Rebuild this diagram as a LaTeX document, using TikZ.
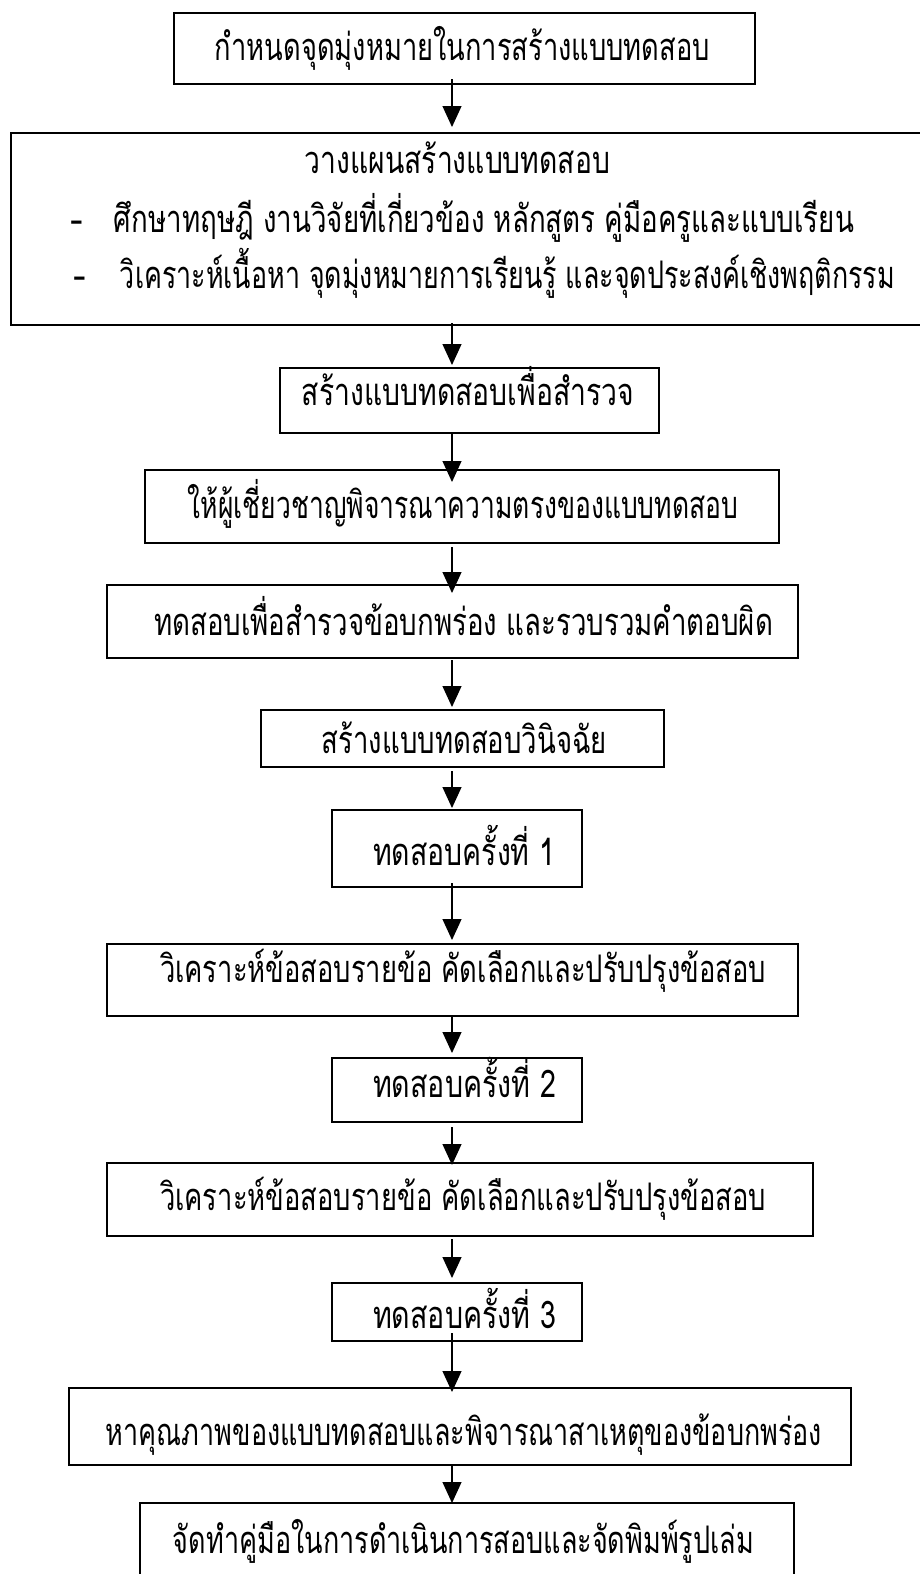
\documentclass[tikz,border=0pt]{standalone}
\usepackage{fontspec}
\usepackage{graphicx}
\newfontfamily\thai[Script=Thai]{Loma}
\usetikzlibrary{arrows.meta,calc}
\tikzset{
  box/.style={draw=black, line width=1.8pt, inner sep=0pt, outer sep=0pt, fill=none},
  arr/.style={line width=1.2pt, -{Triangle[width=19pt,length=21pt]}},
  lbl/.style={inner sep=0pt, outer sep=0pt, anchor=base, font=\thai\fontsize{38}{44}\selectfont},
}
\newcommand{\mkbox}[5]{\node[box, minimum width={(#3-#2)*1pt}, minimum height={(#5-#4)*1pt}] (#1) at ({(#2+#3)/2},{(#4+#5)/2}) {};}
\newcommand{\mktext}[6]{\node[lbl] (#1) at ({(#2+#3)/2},#4) {\resizebox{#5pt}{\height}{#6}};}
\begin{document}
\begin{tikzpicture}[x=1pt,y=-1pt]
\useasboundingbox (0,0) rectangle (920,1574);
\fill[white] (0,0) rectangle (920,1574);
\coordinate (axis) at (452,0);
% boxes
\mkbox{b1}{174}{755}{13}{84}
\mkbox{b2}{11}{930}{133}{325}
\mkbox{b3}{280}{659}{368}{433}
\mkbox{b4}{145}{779}{470}{543}
\mkbox{b5}{107}{798}{585}{658}
\mkbox{b6}{261}{664}{710}{767}
\mkbox{b7}{332}{582}{810}{887}
\mkbox{b8}{107}{798}{944}{1016}
\mkbox{b9}{332}{582}{1058}{1122}
\mkbox{b10}{107}{813}{1163}{1236}
\mkbox{b11}{332}{582}{1283}{1341}
\mkbox{b12}{69}{851}{1388}{1465}
\mkbox{b13}{140}{794}{1503}{1600}
% texts
\mktext{t1}{215}{710}{60}{495}{กำหนดจุดมุ่งหมายในการสร้างแบบทดสอบ}
\mktext{t2a}{305}{610}{173}{305}{วางแผนสร้างแบบทดสอบ}
\node[lbl] (d2b) at (77,232) {-};
\mktext{t2b}{114}{854}{232}{740}{ศึกษาทฤษฎี งานวิจัยที่เกี่ยวข้อง หลักสูตร คู่มือครูและแบบเรียน}
\node[lbl] (d2c) at (80,288) {-};
\mktext{t2c}{120}{895}{288}{775}{วิเคราะห์เนื้อหา จุดมุ่งหมายการเรียนรู้ และจุดประสงค์เชิงพฤติกรรม}
\mktext{t3}{302}{634}{405}{332}{สร้างแบบทดสอบเพื่อสำรวจ}
\mktext{t4}{188}{738}{518}{550}{ให้ผู้เชี่ยวชาญพิจารณาความตรงของแบบทดสอบ}
\mktext{t5}{154}{773}{635}{619}{ทดสอบเพื่อสำรวจข้อบกพร่อง และรวบรวมคำตอบผิด}
\mktext{t6}{322}{607}{753}{285}{สร้างแบบทดสอบวินิจฉัย}
\mktext{t7}{373}{555}{865}{182}{ทดสอบครั้งที่ 1}
\mktext{t8}{160}{766}{982}{606}{วิเคราะห์ข้อสอบรายข้อ คัดเลือกและปรับปรุงข้อสอบ}
\mktext{t9}{373}{556}{1097}{183}{ทดสอบครั้งที่ 2}
\mktext{t10}{160}{766}{1210}{606}{วิเคราะห์ข้อสอบรายข้อ คัดเลือกและปรับปรุงข้อสอบ}
\mktext{t11}{373}{556}{1328}{183}{ทดสอบครั้งที่ 3}
\mktext{t12}{106}{822}{1445}{716}{หาคุณภาพของแบบทดสอบและพิจารณาสาเหตุของข้อบกพร่อง}
\mktext{t13}{173}{754}{1553}{581}{จัดทำคู่มือในการดำเนินการสอบและจัดพิมพ์รูปเล่ม}
% arrows
\draw[arr] ($(b1.south -| axis)+(0,-5)$) -- ($(b2.north -| axis)+(0,-6)$);
\draw[arr] ($(b2.south -| axis)+(0,-2)$) -- ($(b3.north -| axis)+(0,-3)$);
\draw[arr] ($(b3.south -| axis)+(0,0)$) -- ($(b4.north -| axis)+(0,12)$);
\draw[arr] ($(b4.south -| axis)+(0,4)$) -- ($(b5.north -| axis)+(0,8)$);
\draw[arr] ($(b5.south -| axis)+(0,2)$) -- ($(b6.north -| axis)+(0,-3)$);
\draw[arr] ($(b6.south -| axis)+(0,4)$) -- ($(b7.north -| axis)+(0,-2)$);
\draw[arr] ($(b7.south -| axis)+(0,-4)$) -- ($(b8.north -| axis)+(0,-4)$);
\draw[arr] ($(b8.south -| axis)+(0,1)$) -- ($(b9.north -| axis)+(0,-5)$);
\draw[arr] ($(b9.south -| axis)+(0,5)$) -- ($(b10.north -| axis)+(0,2)$);
\draw[arr] ($(b10.south -| axis)+(0,3)$) -- ($(b11.north -| axis)+(0,-5)$);
\draw[arr] ($(b11.south -| axis)+(0,-8)$) -- ($(b12.north -| axis)+(0,4)$);
\draw[arr] ($(b12.south -| axis)+(0,0)$) -- ($(b13.north -| axis)+(0,0)$);
\end{tikzpicture}
\end{document}
